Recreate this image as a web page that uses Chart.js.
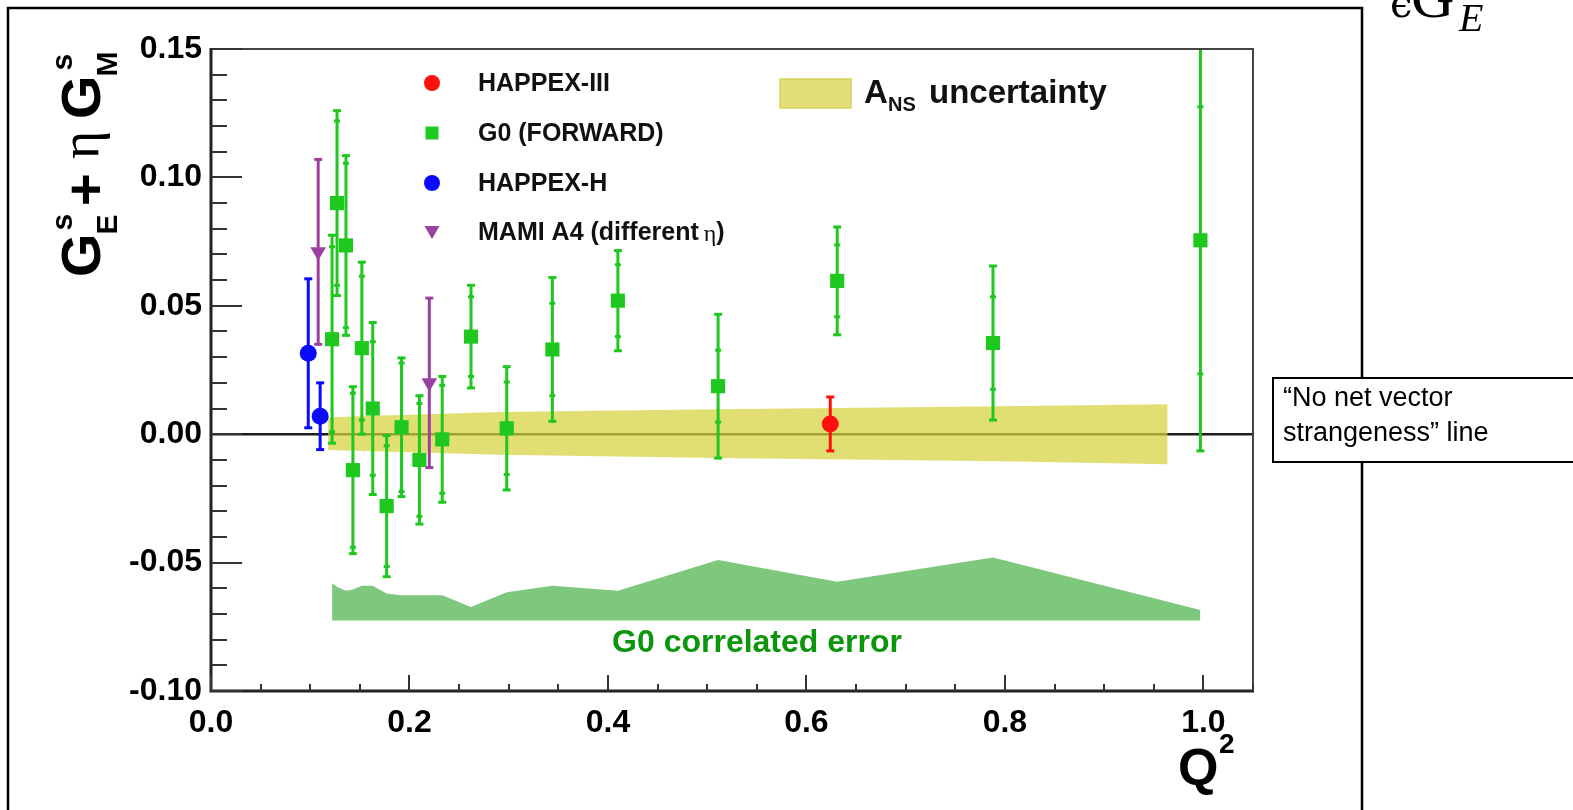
<!DOCTYPE html>
<html><head><meta charset="utf-8">
<script src="https://cdn.jsdelivr.net/npm/chart.js@4.4.0/dist/chart.umd.min.js"></script>
<style>html,body{margin:0;padding:0;background:#fff;overflow:hidden}#wrap{position:relative;width:1573px;height:810px}canvas{display:block}</style>
</head><body><div id="wrap"><canvas id="c" width="1573" height="810"></canvas></div>
<script>
// ---------- data ----------
const xTickValues = [0.0, 0.2, 0.4, 0.6, 0.8, 1.0];
const yTickValues = [-0.10, -0.05, 0.00, 0.05, 0.10, 0.15];

// G0 (FORWARD)
const g0Q2   = [0.122, 0.127, 0.136, 0.143, 0.152, 0.163, 0.177, 0.192, 0.210, 0.233, 0.262, 0.298, 0.344, 0.410, 0.511, 0.631, 0.788, 0.997];
const g0Val  = [0.037, 0.090, 0.0735, -0.014, 0.0335, 0.010, -0.028, 0.0027, -0.010, -0.002, 0.038, 0.0023, 0.033, 0.052, 0.0187, 0.0597, 0.0355, 0.0755];
const g0Tot  = [0.0405, 0.036, 0.035, 0.0325, 0.0335, 0.0335, 0.0275, 0.027, 0.025, 0.0245, 0.020, 0.024, 0.028, 0.0195, 0.028, 0.021, 0.030, 0.082];
const g0Stat = [0.036, 0.032, 0.032, 0.030, 0.028, 0.026, 0.0235, 0.025, 0.022, 0.021, 0.0155, 0.018, 0.018, 0.014, 0.014, 0.014, 0.018, 0.052];

// HAPPEX-H
const hhQ2  = [0.098, 0.110];
const hhVal = [0.0315, 0.0070];
const hhErr = [0.029, 0.013];

// HAPPEX-III
const h3Q2  = [0.624];
const h3Val = [0.0040];
const h3Err = [0.0105];

// MAMI A4
const mamiQ2  = [0.108, 0.220];
const mamiVal = [0.071, 0.020];
const mamiErr = [0.036, 0.033];

// A_NS uncertainty band
const ansQ2    = [0.118, 0.291, 0.511, 0.795, 0.964];
const ansUpper = [0.0066, 0.0086, 0.0097, 0.0109, 0.0117];
const ansLower = [-0.0062, -0.0080, -0.0093, -0.0105, -0.0117];

// G0 correlated error band
const corrQ2     = [0.122, 0.127, 0.136, 0.143, 0.152, 0.163, 0.177, 0.192, 0.210, 0.233, 0.262, 0.298, 0.344, 0.410, 0.511, 0.631, 0.788, 0.997];
const corrTop    = [-0.058, -0.0595, -0.061, -0.0605, -0.059, -0.059, -0.062, -0.0627, -0.0627, -0.0627, -0.0673, -0.0615, -0.059, -0.061, -0.049, -0.0575, -0.048, -0.0685];
const corrBottom = -0.0725;

const zeroLineX = [0.0, 1.05];

// ---------- styling ----------
const FONT = '"Liberation Sans", Arial, Helvetica, sans-serif';
const C_G0 = '#1ec81e', C_RED = '#ff1010', C_BLUE = '#0a0aff', C_PUR = '#9c40a0';

const pts = (xs, ys) => xs.map((x, i) => ({x, y: ys[i]}));

const errPlugin = {
  id: 'errbars',
  beforeDatasetDraw(chart, args) {
    const ds = chart.data.datasets[args.index];
    if (!ds.errTot) return;
    const {ctx, chartArea: a, scales: {x, y}} = chart;
    ctx.save();
    ctx.beginPath(); ctx.rect(a.left, a.top, a.right - a.left, a.bottom - a.top); ctx.clip();
    ctx.strokeStyle = ds.errColor; ctx.lineWidth = 3;
    const cap = (px, py, hw) => { ctx.beginPath(); ctx.moveTo(px - hw, py); ctx.lineTo(px + hw, py); ctx.stroke(); };
    ds.data.forEach((p, i) => {
      const px = x.getPixelForValue(p.x);
      const t = y.getPixelForValue(p.y + ds.errTot[i]);
      const b = y.getPixelForValue(p.y - ds.errTot[i]);
      ctx.beginPath(); ctx.moveTo(px, t); ctx.lineTo(px, b); ctx.stroke();
      cap(px, t, 4); cap(px, b, 4);
      if (ds.errStat) {
        cap(px, y.getPixelForValue(p.y + ds.errStat[i]), 3);
        cap(px, y.getPixelForValue(p.y - ds.errStat[i]), 3);
      }
    });
    ctx.restore();
  }
};

const decor = {
  id: 'decor',
  beforeDraw(chart) {
    const ctx = chart.ctx;
    ctx.save(); ctx.fillStyle = '#fff'; ctx.fillRect(0, 0, chart.width, chart.height); ctx.restore();
  },
  afterDatasetsDraw(chart) {
    const {ctx, chartArea: a, scales: {x, y}} = chart;
    ctx.save();
    ctx.strokeStyle = '#444'; ctx.lineWidth = 2;
    ctx.beginPath(); ctx.moveTo(a.left, a.top); ctx.lineTo(a.right, a.top); ctx.lineTo(a.right, a.bottom); ctx.stroke();
    ctx.strokeStyle = '#222'; ctx.lineWidth = 3;
    ctx.beginPath(); ctx.moveTo(a.left, a.top - 1); ctx.lineTo(a.left, a.bottom); ctx.lineTo(a.right + 1, a.bottom); ctx.stroke();
    ctx.strokeStyle = '#333'; ctx.lineWidth = 2;
    for (let k = 0; k <= 25; k++) {
      const v = yTickValues[0] + k * 0.01;
      const py = Math.round(y.getPixelForValue(v));
      const len = (k % 5 === 0) ? 31 : 16;
      ctx.beginPath(); ctx.moveTo(a.left, py); ctx.lineTo(a.left + len, py); ctx.stroke();
    }
    for (let k = 0; k <= 21; k++) {
      const v = k * 0.05;
      const px = Math.round(x.getPixelForValue(v));
      const len = (k % 4 === 0) ? 16 : 7;
      ctx.beginPath(); ctx.moveTo(px, a.bottom); ctx.lineTo(px, a.bottom - len); ctx.stroke();
    }
    ctx.restore();
  },
  afterDraw(chart) {
    const ctx = chart.ctx;
    ctx.save();
    ctx.fillStyle = '#000';
    ctx.textBaseline = 'alphabetic';

    // ---- legend ----
    const lx = 432, tx = 478;
    ctx.fillStyle = C_RED; ctx.beginPath(); ctx.arc(lx, 83, 8, 0, 2 * Math.PI); ctx.fill();
    ctx.fillStyle = C_G0; ctx.fillRect(lx - 6.5, 133 - 6.5, 13, 13);
    ctx.fillStyle = C_BLUE; ctx.beginPath(); ctx.arc(lx, 183, 8, 0, 2 * Math.PI); ctx.fill();
    ctx.fillStyle = C_PUR; ctx.beginPath(); ctx.moveTo(lx - 7.5, 226); ctx.lineTo(lx + 7.5, 226); ctx.lineTo(lx, 239); ctx.closePath(); ctx.fill();
    ctx.fillStyle = '#111';
    ctx.font = 'bold 25px ' + FONT;
    ctx.textBaseline = 'middle';
    ctx.fillText('HAPPEX-III', tx, 84);
    ctx.fillText('G0 (FORWARD)', tx, 134);
    ctx.fillText('HAPPEX-H', tx, 184);
    const mTxt = 'MAMI A4 (different ';
    ctx.fillText(mTxt, tx, 233);
    let mw = ctx.measureText(mTxt).width;
    ctx.font = '24px "Liberation Serif", "DejaVu Serif", serif';
    ctx.fillText('η', tx + mw - 2, 235);
    let ew = ctx.measureText('η').width;
    ctx.font = 'bold 25px ' + FONT;
    ctx.fillText(')', tx + mw - 2 + ew, 233);

    // A_NS legend
    ctx.fillStyle = '#e3df78'; ctx.fillRect(780, 79, 71, 29);
    ctx.strokeStyle = '#d6d25a'; ctx.lineWidth = 1.5; ctx.strokeRect(780, 79, 71, 29);
    ctx.fillStyle = '#111';
    ctx.textBaseline = 'alphabetic';
    ctx.font = 'bold 33px ' + FONT;
    ctx.fillText('A', 864, 103);
    ctx.font = 'bold 20px ' + FONT;
    ctx.fillText('NS', 888, 111);
    ctx.font = 'bold 33px ' + FONT;
    ctx.fillText('uncertainty', 929, 103);

    // G0 correlated error label
    ctx.fillStyle = '#0c960c';
    ctx.font = 'bold 32px ' + FONT;
    ctx.textAlign = 'center';
    ctx.fillText('G0 correlated error', 757, 652);
    ctx.textAlign = 'left';

    // ---- Y title ----
    ctx.fillStyle = '#000';
    ctx.save();
    ctx.translate(100, 277);
    ctx.rotate(-Math.PI / 2);
    ctx.font = 'bold 56px ' + FONT;
    ctx.fillText('G', 0, 0);
    const gw = ctx.measureText('G').width;
    ctx.font = 'bold 30px ' + FONT;
    ctx.fillText('E', gw - 1, 17);
    ctx.fillText('s', gw + 3, -28);
    ctx.font = 'bold 56px ' + FONT;
    ctx.fillText('+', 71, 4);
    ctx.font = '54px "Liberation Serif", "DejaVu Serif", serif';
    ctx.fillText('η', 118, -2);
    ctx.font = 'bold 56px ' + FONT;
    ctx.fillText('G', 158, 0);
    ctx.font = 'bold 30px ' + FONT;
    ctx.fillText('M', 158 + gw - 1, 17);
    ctx.fillText('s', 158 + gw + 5, -28);
    ctx.restore();

    // ---- X title ----
    ctx.font = 'bold 52px ' + FONT;
    ctx.fillText('Q', 1178, 785);
    ctx.font = 'bold 28px ' + FONT;
    ctx.fillText('2', 1219, 753);

    // ---- outer frame ----
    ctx.strokeStyle = '#000'; ctx.lineWidth = 2.5;
    ctx.beginPath(); ctx.moveTo(8, 812); ctx.lineTo(8, 8); ctx.lineTo(1362, 8); ctx.lineTo(1362, 812); ctx.stroke();

    // ---- annotation box ----
    ctx.fillStyle = '#fff'; ctx.fillRect(1273, 378, 320, 84);
    ctx.strokeStyle = '#000'; ctx.lineWidth = 2;
    ctx.strokeRect(1273, 378, 320, 84);
    ctx.fillStyle = '#000';
    ctx.font = '27px ' + FONT;
    ctx.fillText('\u201CNo net vector', 1283, 406);
    ctx.fillText('strangeness\u201D line', 1283, 441);

    // ---- math fragment top right ----
    ctx.font = '40px "DejaVu Serif", "Liberation Serif", serif';
    ctx.fillText('\u03F5', 1390, 17);
    ctx.font = '60px "Liberation Serif", "DejaVu Serif", serif';
    ctx.fillText('G', 1411, 17);
    ctx.font = 'italic 40px "Liberation Serif", "DejaVu Serif", serif';
    ctx.fillText('E', 1459, 31);
    ctx.fillText('s', 1452, -6);
    ctx.restore();
  }
};

const chart = new Chart(document.getElementById('c'), {
  type: 'line',
  data: {
    datasets: [
      {label: 'HAPPEX-III', data: pts(h3Q2, h3Val), showLine: false, pointStyle: 'circle', pointRadius: 8.5,
       backgroundColor: C_RED, borderWidth: 0, errTot: h3Err, errColor: C_RED, order: 1},
      {label: 'MAMI A4 (different η)', data: pts(mamiQ2, mamiVal), showLine: false, pointStyle: 'triangle', rotation: 180, pointRadius: 9,
       backgroundColor: C_PUR, borderWidth: 0, errTot: mamiErr, errColor: C_PUR, order: 2},
      {label: 'HAPPEX-H', data: pts(hhQ2, hhVal), showLine: false, pointStyle: 'circle', pointRadius: 8.5,
       backgroundColor: C_BLUE, borderWidth: 0, errTot: hhErr, errColor: C_BLUE, order: 3},
      {label: 'G0 (FORWARD)', data: pts(g0Q2, g0Val), showLine: false, pointStyle: 'rect', pointRadius: 10,
       backgroundColor: C_G0, borderWidth: 0, errTot: g0Tot, errStat: g0Stat, errColor: C_G0, order: 4},
      {label: 'A_NS upper', data: pts(ansQ2, ansUpper), fill: '+1', backgroundColor: 'rgba(214,210,62,0.72)',
       borderWidth: 0, pointRadius: 0, tension: 0, order: 7},
      {label: 'A_NS lower', data: pts(ansQ2, ansLower), fill: false, borderWidth: 0, pointRadius: 0, order: 7},
      {label: 'zero', data: pts(zeroLineX, [0, 0]), fill: false, borderColor: '#1e1e1e', borderWidth: 2.5, pointRadius: 0, order: 8},
      {label: 'G0 correlated error', data: pts(corrQ2, corrTop), fill: {value: corrBottom}, backgroundColor: '#7dc87d',
       borderWidth: 0, pointRadius: 0, order: 9}
    ]
  },
  options: {
    responsive: false, animation: false, events: [],
    layout: {padding: {top: 49, left: 0, right: 320, bottom: 0}},
    plugins: {legend: {display: false}, tooltip: {enabled: false}, title: {display: false}},
    scales: {
      x: {
        type: 'linear', min: 0, max: 1.05,
        afterBuildTicks: s => { s.ticks = xTickValues.map(v => ({value: v})); },
        afterFit: s => { s.height = 119; },
        grid: {display: false, drawTicks: false}, border: {display: false},
        ticks: {padding: 13, color: '#000', font: {family: FONT, weight: 'bold', size: 32},
                callback: v => Number(v).toFixed(1), maxRotation: 0, autoSkip: false}
      },
      y: {
        type: 'linear', min: -0.10, max: 0.15,
        afterBuildTicks: s => { s.ticks = yTickValues.map(v => ({value: v})); },
        afterFit: s => { s.width = 211; },
        grid: {display: false, drawTicks: false}, border: {display: false},
        ticks: {padding: 9, color: '#000', font: {family: FONT, weight: 'bold', size: 32},
                callback: v => Number(v).toFixed(2), autoSkip: false}
      }
    }
  },
  plugins: [errPlugin, decor]
});
</script>
</body></html>
